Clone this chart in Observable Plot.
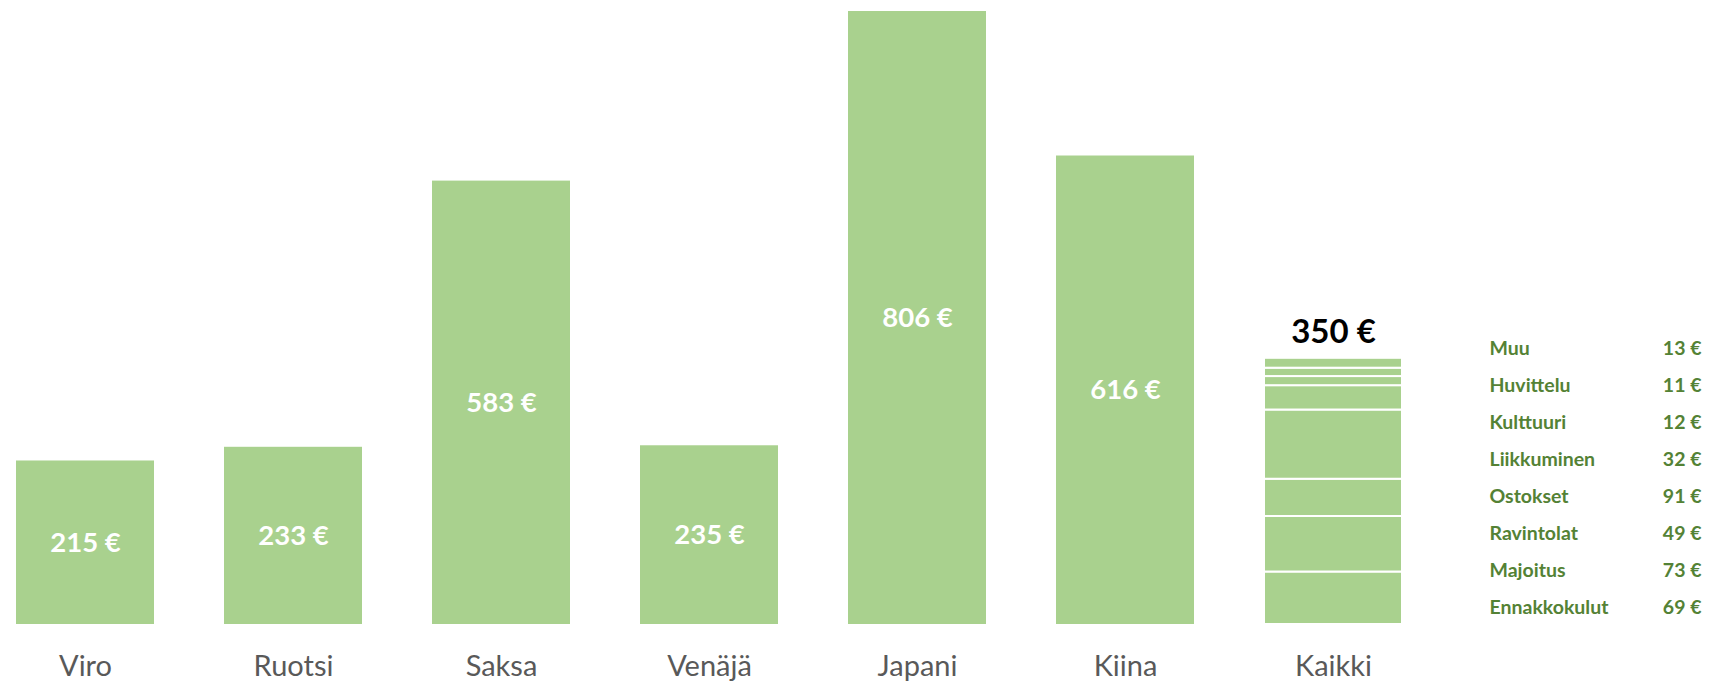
<!DOCTYPE html>
<html>
<head>
<meta charset="utf-8">
<script src="https://cdn.jsdelivr.net/npm/d3@7"></script>
<script src="https://cdn.jsdelivr.net/npm/@observablehq/plot@0.6"></script>
<style>
  html, body { margin: 0; padding: 0; background: #fff; }
  #wrap { position: relative; width: 1711px; height: 681px; overflow: hidden; font-family: Lato, "Open Sans", sans-serif; }
  #wrap svg { position: absolute; background: transparent; overflow: visible; }
</style>
</head>
<body>
<div id="wrap"></div>
<script>
// Data
const countries = ["Viro", "Ruotsi", "Saksa", "Venäjä", "Japani", "Kiina"];
const countryValues = [215, 233, 583, 235, 806, 616];
const totalLabel = "Kaikki";
const totalValue = 350;
// Breakdown of "Kaikki", listed bottom-to-top
const segmentNames = ["Ennakkokulut", "Majoitus", "Ravintolat", "Ostokset", "Liikkuminen", "Kulttuuri", "Huvittelu", "Muu"];
const segmentValues = [69, 73, 49, 91, 32, 12, 11, 13];

const categories = [...countries, totalLabel];
const countryRows = countries.map((c, i) => ({cat: c, value: countryValues[i]}));
const segmentRows = segmentNames.map((n, i) => ({cat: totalLabel, name: n, value: segmentValues[i]}));

const green = "#A9D18E";
const darkGreen = "#548235";

const main = Plot.plot({
  width: 1711,
  height: 681,
  marginTop: 11,
  marginBottom: 57,
  marginLeft: 0,
  marginRight: 0,
  style: {fontFamily: "Lato, 'Open Sans', sans-serif", background: "transparent"},
  x: {domain: categories, range: [14.7, 1403], paddingInner: 0.335, paddingOuter: 0, label: null},
  y: {domain: [0, 806], axis: null},
  marks: [
    Plot.barY(countryRows, {x: "cat", y: "value", fill: green}),
    Plot.barY(segmentRows, {x: "cat", y: "value", fill: green, stroke: "#fff", strokeWidth: 2}),
    Plot.text(countryRows, {x: "cat", y: d => d.value / 2, text: d => `${d.value} €`, fill: "#fff", fontWeight: "bold", fontSize: 27.5}),
    Plot.text([{cat: totalLabel, value: totalValue}], {x: "cat", y: "value", text: d => `${d.value} €`, fill: "#000", fontWeight: "bold", fontSize: 33, dy: -26}),
    Plot.axisX({tickSize: 0, tickPadding: 31, fontSize: 29, color: "#595959", label: null})
  ]
});
main.style.left = "0px";
main.style.top = "0px";
document.getElementById("wrap").appendChild(main);

// Legend (top-to-bottom order)
const legendRows = segmentNames.map((n, i) => ({name: n, value: segmentValues[i]})).reverse();
const legend = Plot.plot({
  width: 212,
  height: 302,
  margin: 0,
  style: {fontFamily: "Lato, 'Open Sans', sans-serif", background: "transparent"},
  y: {type: "band", domain: legendRows.map(d => d.name), padding: 0, axis: null},
  marks: [
    Plot.text(legendRows, {y: "name", text: "name", frameAnchor: "left", textAnchor: "start", fill: darkGreen, fontWeight: "bold", fontSize: 19.5}),
    Plot.text(legendRows, {y: "name", text: d => `${d.value} €`, frameAnchor: "right", textAnchor: "end", fill: darkGreen, fontWeight: "bold", fontSize: 19.5})
  ]
});
legend.style.left = "1489px";
legend.style.top = "327px";
document.getElementById("wrap").appendChild(legend);
</script>
</body>
</html>
